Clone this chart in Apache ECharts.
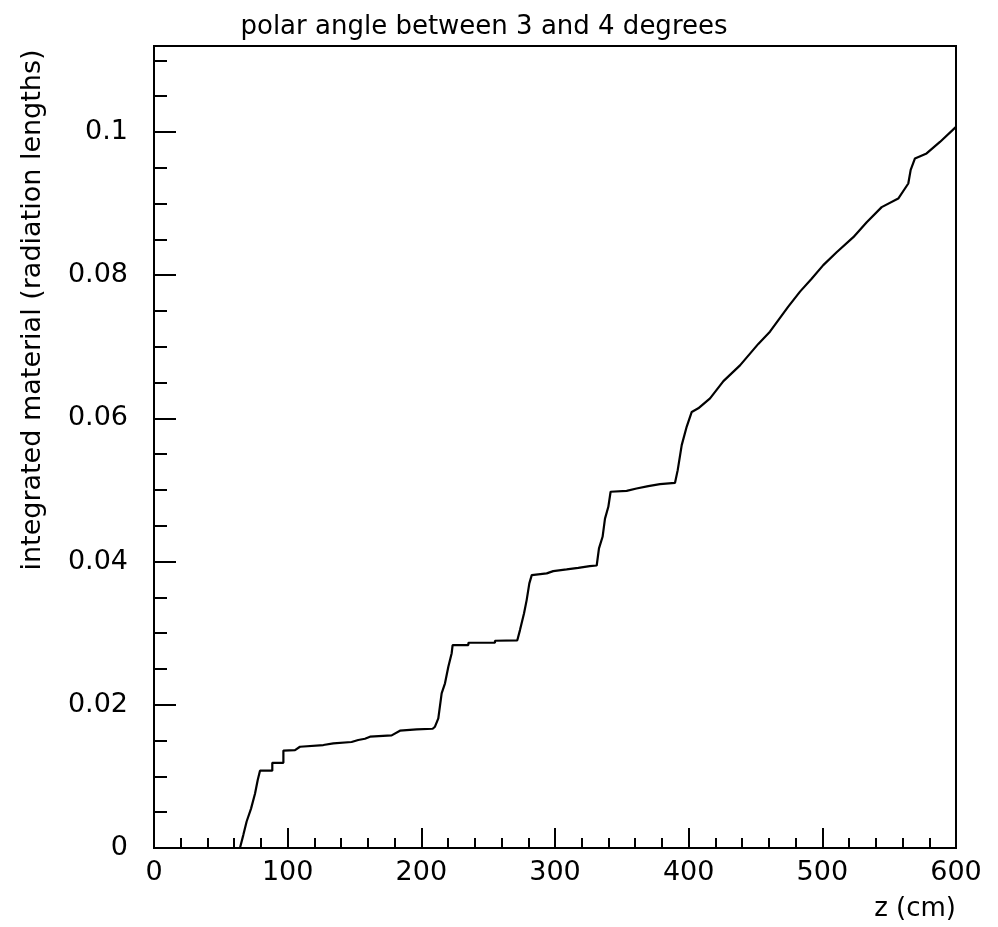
<!DOCTYPE html>
<html>
<head>
<meta charset="utf-8">
<script src="https://cdn.jsdelivr.net/npm/echarts@6/dist/echarts.min.js"></script>
<style>
html,body{margin:0;padding:0;background:#fff;}
#c{width:998px;height:927px;}
</style>
</head>
<body>
<div id="c"></div>
<script>
// z positions (cm)
var zValues = [64.3, 66.8, 69.3, 72.6, 75.6, 77.6, 79.3, 88.5, 88.5, 96.8, 96.8, 105.5, 109.2, 126.7, 134.2, 147.8, 152.8, 157.8, 161.6, 177.8, 184.0, 196.5, 208.5,
  210.2, 212.7, 215.2, 217.7, 220.2, 222.7, 223.4, 235.2, 235.2, 255.1, 255.1, 271.8,
  273.8, 276.8, 278.8, 280.8, 282.6, 293.8, 298.7, 308.7, 317.4, 326.0, 331.2,
  332.9, 335.6, 337.4, 339.9, 341.6, 353.6, 361.0, 369.8, 378.5, 389.8,
  391.8, 394.8, 398.5, 402.3, 407.2, 416.0, 426.0, 438.4, 452.1, 460.8, 474.5, 483.3, 492.0, 500.7,
  510.7, 523.2, 533.2, 544.4, 556.8, 564.3, 566.1, 569.3, 578.0, 588.0, 600.0];
// integrated material (radiation lengths)
var material = [0.0, 0.0018, 0.0037, 0.0055, 0.0076, 0.0095, 0.0108, 0.0108, 0.0119, 0.0119, 0.0136, 0.01368, 0.01414, 0.01438, 0.01462, 0.0148, 0.01508, 0.01526, 0.01554, 0.01573, 0.01638, 0.01657, 0.01665,
  0.01694, 0.0181, 0.0216, 0.0230, 0.0253, 0.0272, 0.02834, 0.02834, 0.02866, 0.02866, 0.02894, 0.02900,
  0.03043, 0.03276, 0.03462, 0.03695, 0.03811, 0.03835, 0.03867, 0.0389, 0.03913, 0.03937, 0.03945,
  0.04184, 0.04346, 0.0460, 0.04765, 0.04975, 0.04988, 0.0502, 0.05054, 0.05082, 0.0510,
  0.05277, 0.05626, 0.05882, 0.0609, 0.0614, 0.0628, 0.0652, 0.0674, 0.0704, 0.0721, 0.0756, 0.0777, 0.0795, 0.0814,
  0.0832, 0.0853, 0.0874, 0.0895, 0.0907, 0.0928, 0.0947, 0.0963, 0.0970, 0.0986, 0.1007];
var titleText = 'polar angle between 3 and 4 degrees';
var xName = 'z (cm)';
var yName = 'integrated material (radiation lengths)';

var pts = zValues.map(function (z, i) { return [z, material[i]]; });
var fontFam = 'DejaVu Sans';
var chart = echarts.init(document.getElementById('c'), null, {renderer: 'canvas'});
chart.setOption({
  animation: false,
  backgroundColor: '#ffffff',
  title: {
    text: titleText, left: 479, top: 9, textAlign: 'center',
    textStyle: {fontFamily: fontFam, fontSize: 26, fontWeight: 'normal', color: '#000'}
  },
  graphic: [{
    type: 'text', x: 33, y: 310, rotation: Math.PI / 2,
    style: {text: yName, fontFamily: fontFam, fontSize: 27, fill: '#000', align: 'center', verticalAlign: 'middle'}
  }],
  grid: {left: 154, right: 42, top: 46, bottom: 79, show: true, borderColor: '#000', borderWidth: 2, backgroundColor: 'transparent'},
  xAxis: {
    type: 'value', min: 0, max: 600, interval: 100,
    axisLine: {show: true, lineStyle: {color: '#000', width: 2}},
    axisTick: {show: true, inside: true, length: 20, lineStyle: {color: '#000', width: 2}},
    minorTick: {show: true, splitNumber: 5, length: 10, lineStyle: {color: '#000', width: 2}},
    splitLine: {show: false},
    axisLabel: {fontFamily: fontFam, fontSize: 27, color: '#000', margin: 11},
    name: xName, nameLocation: 'end', nameGap: 0,
    nameTextStyle: {fontFamily: fontFam, fontSize: 26, color: '#000', align: 'right', verticalAlign: 'top', padding: [48, 0, 0, 0]}
  },
  yAxis: [{
    type: 'value', min: 0, max: 0.112, interval: 0.02,
    axisLine: {show: true, lineStyle: {color: '#000', width: 2}},
    axisTick: {show: true, inside: true, length: 22, lineStyle: {color: '#000', width: 2}},
    splitLine: {show: false},
    axisLabel: {fontFamily: fontFam, fontSize: 27, color: '#000', margin: 26, showMaxLabel: false}
  }, {
    type: 'value', min: 0, max: 0.112, interval: 0.005, position: 'left',
    axisLine: {show: false},
    axisTick: {show: true, inside: true, length: 13, lineStyle: {color: '#000', width: 2}},
    splitLine: {show: false},
    axisLabel: {show: false}
  }],
  series: [{
    type: 'line', data: pts, showSymbol: false, symbol: 'none',
    lineStyle: {color: '#000', width: 2.2},
    clip: true
  }]
});
</script>
</body>
</html>
